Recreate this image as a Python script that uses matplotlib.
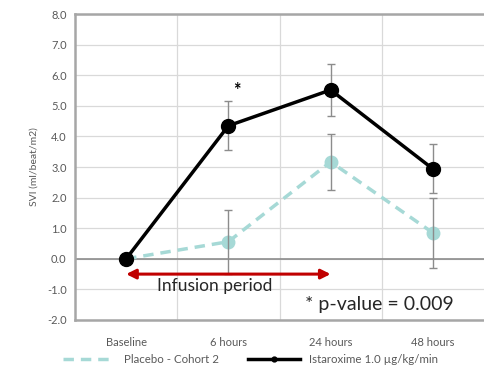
import matplotlib
matplotlib.use("Agg")
import matplotlib.pyplot as plt
from matplotlib.lines import Line2D
import numpy as np

plt.rcParams['font.family'] = ['Lato', 'DejaVu Sans']

categories = ['Baseline', '6 hours', '24 hours', '48 hours']
istaroxime = [0.0, 4.35, 5.52, 2.94]
istaroxime_err = [0.0, 0.8, 0.86, 0.8]
placebo = [0.0, 0.56, 3.17, 0.85]
placebo_err = [0.0, 1.05, 0.92, 1.15]

fig = plt.figure(figsize=(4.84, 3.71), dpi=100)
ax = fig.add_axes([0.155, 0.1375, 0.845, 0.8245])

x = np.arange(len(categories))
light = '#a6d9d6'
grid_c = '#d9d9d9'

# placebo (drawn first, behind)
ax.errorbar(x[1:], placebo[1:], yerr=placebo_err[1:], fmt='none', ecolor='#8c8c8c',
            elinewidth=1, capsize=3, capthick=1, zorder=3)
ax.plot(x, placebo, color=light, lw=2.5, ls=(0, (3, 2)), marker='o', ms=9,
        mfc=light, mec=light, zorder=2)

ax.errorbar(x[1:], istaroxime[1:], yerr=istaroxime_err[1:], fmt='none', ecolor='#8c8c8c',
            elinewidth=1, capsize=3, capthick=1, zorder=3)
ax.plot(x, istaroxime, color='black', lw=2.5, marker='o', ms=10, zorder=4)

# significance marker
ax.text(1.08, 5.5, '*', fontsize=13, ha='center', va='center', fontweight='bold')

# infusion arrow
ax.annotate('', xy=(0.0, -0.5), xytext=(2.0, -0.5),
            arrowprops=dict(arrowstyle='<|-|>', color='#c00000', lw=2.2,
                            mutation_scale=14, shrinkA=0, shrinkB=0))
ax.text(0.3, -0.88, 'Infusion period', fontsize=12.5, ha='left', va='center', color='#262626')
ax.text(1.75, -1.5, '* p-value = 0.009', fontsize=14, ha='left', va='center', color='#262626')

ax.set_xlim(-0.5, 3.5)
ax.set_ylim(-2, 8)
ax.set_yticks(np.arange(-2, 8.1, 1))
ax.set_yticklabels(['%.1f' % v for v in np.arange(-2, 8.1, 1)])
ax.set_xticks(x)
ax.set_xticklabels(categories)
ax.set_xticks([0.5, 1.5, 2.5], minor=True)
ax.tick_params(which='both', length=0, colors='#595959', labelsize=8, pad=6)
ax.tick_params(axis='x', pad=12)
ax.grid(axis='y', color=grid_c, lw=0.9)
ax.grid(axis='x', which='minor', color=grid_c, lw=0.9)
ax.axhline(0, color='#8c8c8c', lw=1.2, zorder=1)
ax.set_axisbelow(True)
for s in ['left', 'bottom', 'top']:
    ax.spines[s].set_color('#a6a6a6')
    ax.spines[s].set_linewidth(1.8)
ax.spines['right'].set_visible(False)

ax.set_ylabel('SVI (ml/beat/m2)', fontsize=7.5, color='#595959', labelpad=6)

handles = [
    Line2D([], [], color=light, lw=2.5, ls=(0, (3, 2))),
    Line2D([], [], color='black', lw=2.5, marker='o', ms=3.5),
]
ax.legend(handles, ['Placebo - Cohort 2', 'Istaroxime 1.0 \u00b5g/kg/min'],
          loc='upper center', bbox_to_anchor=(0.43, -0.085), ncol=2, frameon=False,
          fontsize=8.3, labelcolor='#595959', handlelength=4.5, columnspacing=2.5,
          borderpad=0.2)

fig.savefig('out.png', dpi=100)
